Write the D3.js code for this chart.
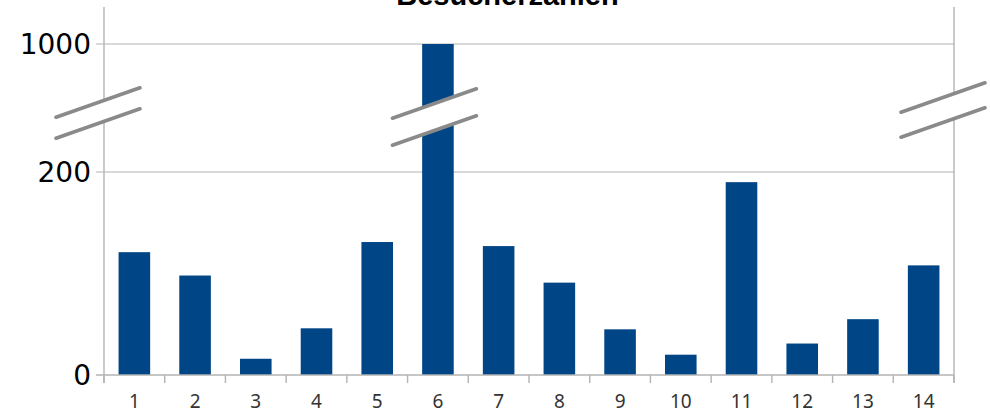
<!DOCTYPE html>
<html>
<head>
<meta charset="utf-8">
<script src="https://cdn.jsdelivr.net/npm/d3@7"></script>
<style>
  html, body { margin: 0; padding: 0; background: #fff; }
  svg { display: block; }
</style>
</head>
<body>
<svg id="chart" width="990" height="411"></svg>
<script>
// ---- data ----
const title = "Besucherzahlen";
const categories = ["1","2","3","4","5","6","7","8","9","10","11","12","13","14"];
const visitors = [121, 98, 16, 46, 131, 1000, 127, 91, 45, 20, 190, 31, 55, 108];
const yTicks = [0, 200, 1000];
// broken axis: value domain breakpoints
const yBreakDomain = [0, 200, 1000];

// ---- layout ----
const W = 990, H = 411;
const plot = { left: 104, right: 954, top: 7, bottom: 375 };
const svg = d3.select("#chart");

const x = d3.scaleBand().domain(categories).range([plot.left, plot.right]).paddingInner(0).paddingOuter(0);
const y = d3.scaleLinear().domain(yBreakDomain).range([plot.bottom, 172, 44]);
const barW = x.bandwidth() * 0.52;

const gridColor = "#b3b3b3";

// gridlines
svg.append("g").selectAll("line").data(yTicks.filter(d => d > 0)).join("line")
  .attr("x1", plot.left - 8).attr("x2", plot.right)
  .attr("y1", d => y(d)).attr("y2", d => y(d))
  .attr("stroke", gridColor).attr("stroke-width", 1.2);

// bars
svg.append("g").selectAll("rect").data(visitors).join("rect")
  .attr("x", (d, i) => x(categories[i]) + (x.bandwidth() - barW) / 2)
  .attr("width", barW)
  .attr("y", d => y(d))
  .attr("height", d => y(0) - y(d))
  .attr("fill", "#004586");

// axes lines
const axisG = svg.append("g").attr("stroke", gridColor).attr("stroke-width", 1.4);
axisG.append("line").attr("x1", plot.left).attr("x2", plot.left).attr("y1", plot.top).attr("y2", plot.bottom + 8);
axisG.append("line").attr("x1", plot.right).attr("x2", plot.right).attr("y1", plot.top).attr("y2", plot.bottom + 8);
axisG.append("line").attr("x1", plot.left - 8).attr("x2", plot.right).attr("y1", plot.bottom).attr("y2", plot.bottom);
// x ticks at band boundaries
const bounds = categories.map(c => x(c)).concat([plot.right]);
axisG.selectAll("line.xt").data(bounds).join("line").attr("class", "xt")
  .attr("x1", d => d).attr("x2", d => d)
  .attr("y1", plot.bottom).attr("y2", plot.bottom + 8);

// y labels
svg.append("g").selectAll("text").data(yTicks).join("text")
  .attr("x", 91).attr("y", d => y(d)).attr("dy", "0.36em")
  .attr("text-anchor", "end")
  .attr("font-family", "DejaVu Sans").attr("font-size", 28).attr("fill", "#000")
  .text(d => d);

// x labels
svg.append("g").selectAll("text").data(categories).join("text")
  .attr("x", d => x(d) + x.bandwidth() / 2).attr("y", 407.5)
  .attr("text-anchor", "middle")
  .attr("font-family", "Noto Sans").attr("font-size", 19).attr("fill", "#333")
  .text(d => d);

// break marks
const defs = svg.append("defs");
defs.append("filter").attr("id", "soft").attr("x", "-20%").attr("y", "-50%").attr("width", "140%").attr("height", "200%")
  .append("feGaussianBlur").attr("stdDeviation", 0.7);

const breaks = [
  { cx: plot.left - 6, cy: 113, gap: 21 },
  { cx: x("6") + x.bandwidth() / 2 - 3.5, cy: 117, gap: 27 },
  { cx: plot.right - 11, cy: 110, gap: 25 }
];
const half = 42, slope = -0.35;
const bg = svg.append("g");
breaks.forEach(b => {
  const y1a = b.cy - b.gap / 2 - slope * half, y1b = b.cy - b.gap / 2 + slope * half;
  const y2a = b.cy + b.gap / 2 - slope * half, y2b = b.cy + b.gap / 2 + slope * half;
  const x0 = b.cx - half, x1 = b.cx + half;
  bg.append("polygon")
    .attr("points", [[x0, y1a], [x1, y1b], [x1, y2b], [x0, y2a]].map(p => p.join(",")).join(" "))
    .attr("fill", "#fff");
  [[y1a, y1b], [y2a, y2b]].forEach(([ya, yb]) => {
    bg.append("line").attr("x1", x0).attr("y1", ya).attr("x2", x1).attr("y2", yb)
      .attr("stroke", "#8a8a8a").attr("stroke-width", 3.6).attr("stroke-linecap", "round")
      .attr("filter", "url(#soft)");
  });
});

// title (partly cut off at the top)
svg.append("text")
  .attr("x", 507.5).attr("y", 5)
  .attr("text-anchor", "middle")
  .attr("font-family", "Liberation Sans").attr("font-weight", "bold").attr("font-size", 29)
  .attr("fill", "#000")
  .text(title);
</script>
</body>
</html>
